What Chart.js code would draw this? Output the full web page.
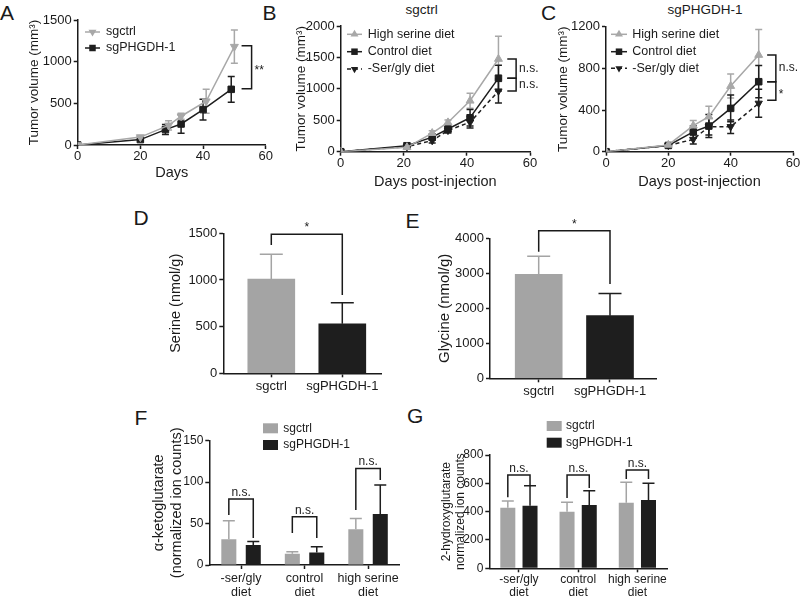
<!DOCTYPE html>
<html lang="en">
<head>
<meta charset="utf-8">
<title>PHGDH tumour figure</title>
<script src="https://cdn.jsdelivr.net/npm/chart.js@4.4.1/dist/chart.umd.min.js"></script>
<style>
  html, body { margin: 0; padding: 0; background: #fff; }
  #figura { position: relative; width: 800px; height: 596px; overflow: hidden;
            font-family: 'Liberation Sans', Arial, sans-serif; color: #1a1a1a; }
  #figura canvas { position: absolute; }
  .txt { position: absolute; line-height: 1; white-space: nowrap; }
  .letra { font-size: 21px; }
  .titulo { font-size: 13.5px; transform: translateX(-50%); }
</style>
</head>
<body>
<div id="figura">
  <div class="txt letra" style="left:0px;top:2px">A</div>
  <div class="txt letra" style="left:262.5px;top:2px">B</div>
  <div class="txt letra" style="left:541px;top:2px">C</div>
  <div class="txt letra" style="left:133.5px;top:207px">D</div>
  <div class="txt letra" style="left:405.5px;top:210px">E</div>
  <div class="txt letra" style="left:134.5px;top:407px">F</div>
  <div class="txt letra" style="left:407px;top:405px">G</div>
  <div class="txt titulo" style="left:421.7px;top:2.6px">sgctrl</div>
  <div class="txt titulo" style="left:705px;top:3.3px">sgPHGDH-1</div>
</div>
<script>
// Painel A - volume tumoral (mm3) por dia
const diasA_sgctrl = [0, 20, 29, 33, 41, 50];
const volA_sgctrl = [0, 95, 235, 345, 525, 1180];
const erroA_sgctrl = [0, 15, 55, 35, 145, 200];
const diasA_sgPHGDH = [0, 20, 28, 33, 40, 49];
const volA_sgPHGDH = [0, 65, 185, 252, 425, 668];
const erroA_sgPHGDH = [0, 10, 60, 110, 125, 155];

// Painel B - sgctrl com dietas
const diasB = [0, 21, 29, 34, 41, 50];
const volB_alta = [0, 70, 295, 465, 810, 1475];
const erroB_alta = [0, 20, 40, 40, 120, 360];
const volB_controle = [0, 95, 232, 361, 540, 1170];
const erroB_controle = [0, 20, 50, 40, 130, 205];
const volB_semSerGly = [0, 80, 177, 339, 468, 965];
const erroB_semSerGly = [0, 15, 40, 40, 90, 190];

// Painel C - sgPHGDH-1 com dietas
const diasC = [0, 20, 28, 33, 40, 49];
const volC_alta = [0, 65, 250, 336, 630, 928];
const erroC_alta = [0, 10, 50, 100, 115, 245];
const volC_controle = [0, 60, 190, 246, 416, 672];
const erroC_controle = [0, 10, 60, 110, 128, 155];
const volC_semSerGly = [0, 60, 118, 240, 240, 465];
const erroC_semSerGly = [0, 8, 45, 80, 65, 135];

// Paineis D e E - serina e glicina (nmol/g)
const grupos = ['sgctrl', 'sgPHGDH-1'];
const serina = [1010, 530];
const erroSerina = [265, 225];
const glicina = [2970, 1790];
const erroGlicina = [520, 630];

// Paineis F e G - dietas
const dietas = [['-ser/gly', 'diet'], ['control', 'diet'], ['high serine', 'diet']];
const akg_sgctrl = [31, 13.5, 43];
const erroAkg_sgctrl = [22.5, 2.5, 13];
const akg_sgPHGDH = [24, 15, 61.5];
const erroAkg_sgPHGDH = [4.5, 7, 35];
const hg_sgctrl = [428, 400, 463];
const erroHg_sgctrl = [47, 66, 144];
const hg_sgPHGDH = [442, 447, 482];
const erroHg_sgPHGDH = [141, 101, 118];

// Colchetes de significancia (valores nas unidades dos eixos)
const colchetesA = [{ x1: 52.3, x2: 55.5, y1: 1190, y2: 675, texto: '**' }];
const colchetesB = [
    { x1: 52.8, x2: 55.6, y1: 1475, y2: 1170, texto: 'n.s.' },
    { x1: 52.8, x2: 55.6, y1: 1170, y2: 965, texto: 'n.s.' }
];
const colchetesC = [
    { x1: 51.7, x2: 54.5, y1: 928, y2: 672, texto: 'n.s.' },
    { x1: 51.7, x2: 54.5, y1: 672, y2: 495, texto: '*' }
];
const colchetesD = [{ a: [0, 0], b: [0, 1], topo: 1489, fimA: 1375, fimB: 839, texto: '*' }];
const colchetesE = [{ a: [0, 0], b: [0, 1], topo: 4217, fimA: 3617, fimB: 2694, texto: '*' }];
const colchetesF = [
    { a: [0, 0], b: [1, 0], topo: 79.6, fimA: 60.3, fimB: 32.6, texto: 'n.s.' },
    { a: [0, 1], b: [1, 1], topo: 58.3, fimA: 38.6, fimB: 32.6, texto: 'n.s.' },
    { a: [0, 2], b: [1, 2], topo: 116.6, fimA: 66.3, fimB: 102.5, texto: 'n.s.' }
];
const colchetesG = [
    { a: [0, 0], b: [1, 0], topo: 658, fimA: 501, fimB: 581, texto: 'n.s.' },
    { a: [0, 1], b: [1, 1], topo: 658, fimA: 496, fimB: 567, texto: 'n.s.' },
    { a: [0, 2], b: [1, 2], topo: 694, fimA: 630, fimB: 630, texto: 'n.s.' }
];

const FONTE = "'Liberation Sans', Arial, sans-serif";
const TINTA = '#1a1a1a';
const CINZA = '#a8a8a8';
const CINZA_BARRA = '#a4a4a4';
const PRETO = '#1e1e1e';

Chart.defaults.font.family = FONTE;
Chart.defaults.color = TINTA;
Chart.defaults.animation = false;
Chart.defaults.plugins.legend.display = false;
Chart.defaults.plugins.tooltip.enabled = false;

const TRI_BAIXO = { ponto: 'triangle', rot: 180, raio: 4.6 };
const TRI_CIMA = { ponto: 'triangle', rot: 0, raio: 4.6 };
const QUADRADO = { ponto: 'rect', rot: 0, raio: 4.6 };
const TRACEJADO = { ponto: 'triangle', rot: 180, raio: 4.2, dash: [4, 3] };

// Plugin: barras de erro, colchetes e legendas no estilo GraphPad
const extras = {
    id: 'extras',
    beforeDatasetsDraw(chart) {
        const cfg = chart.config.options.plugins.extras || {};
        const ctx = chart.ctx;
        const ey = chart.scales.y;
        chart.data.datasets.forEach((ds, di) => {
            if (!ds.err) return;
            const meta = chart.getDatasetMeta(di);
            meta.data.forEach((el, i) => {
                const e = ds.err[i];
                if (!e) return;
                const v = meta.controller.getParsed(i).y;
                const cor = Array.isArray(ds.errColor) ? ds.errColor[i] : (ds.errColor || ds.borderColor);
                const yAlto = ey.getPixelForValue(v + e);
                const yBaixo = ey.getPixelForValue(cfg.soParaCima ? v : v - e);
                const meio = cfg.capa / 2;
                ctx.save();
                ctx.strokeStyle = cor;
                ctx.lineWidth = 1.5;
                ctx.beginPath();
                ctx.moveTo(el.x, yBaixo);
                ctx.lineTo(el.x, yAlto);
                ctx.moveTo(el.x - meio, yAlto);
                ctx.lineTo(el.x + meio, yAlto);
                if (!cfg.soParaCima) {
                    ctx.moveTo(el.x - meio, yBaixo);
                    ctx.lineTo(el.x + meio, yBaixo);
                }
                ctx.stroke();
                ctx.restore();
            });
        });
    },
    afterDatasetsDraw(chart) {
        const cfg = chart.config.options.plugins.extras || {};
        const ctx = chart.ctx;
        const ex = chart.scales.x;
        const ey = chart.scales.y;
        ctx.save();
        ctx.strokeStyle = TINTA;
        ctx.fillStyle = TINTA;
        ctx.lineWidth = 1.5;
        ctx.font = '12px ' + FONTE;
        (cfg.colchetes || []).forEach(c => {
            if (c.x1 !== undefined) {
                // colchete vertical a direita das curvas
                const x1 = ex.getPixelForValue(c.x1), x2 = ex.getPixelForValue(c.x2);
                const y1 = ey.getPixelForValue(c.y1), y2 = ey.getPixelForValue(c.y2);
                ctx.beginPath();
                ctx.moveTo(x1, y1); ctx.lineTo(x2, y1); ctx.lineTo(x2, y2); ctx.lineTo(x1, y2);
                ctx.stroke();
                ctx.textAlign = 'left';
                ctx.textBaseline = 'alphabetic';
                ctx.fillText(c.texto, x2 + 3, (y1 + y2) / 2 + (c.texto.includes('*') ? 7 : 3));
            } else {
                const xa = chart.getDatasetMeta(c.a[0]).data[c.a[1]].x;
                const xb = chart.getDatasetMeta(c.b[0]).data[c.b[1]].x;
                const yt = ey.getPixelForValue(c.topo);
                ctx.beginPath();
                ctx.moveTo(xa, ey.getPixelForValue(c.fimA));
                ctx.lineTo(xa, yt);
                ctx.lineTo(xb, yt);
                ctx.lineTo(xb, ey.getPixelForValue(c.fimB));
                ctx.stroke();
                ctx.textAlign = 'center';
                ctx.textBaseline = 'alphabetic';
                ctx.fillText(c.texto, (xa + xb) / 2, yt - 3);
            }
        });

        const leg = cfg.legenda;
        if (leg) {
            ctx.font = leg.fonte + 'px ' + FONTE;
            ctx.textBaseline = 'middle';
            ctx.textAlign = 'left';
            chart.data.datasets.forEach((ds, i) => {
                const y = leg.y[i] - cfg.caixa.y;
                const x = leg.x - cfg.caixa.x;
                if (leg.tipo === 'linha') {
                    ctx.strokeStyle = ds.borderColor;
                    ctx.lineWidth = 1.5;
                    ctx.setLineDash(ds.borderDash || []);
                    ctx.beginPath();
                    ctx.moveTo(x, y);
                    ctx.lineTo(x + leg.comp, y);
                    ctx.stroke();
                    ctx.setLineDash([]);
                    ctx.fillStyle = ds.borderColor;
                    Chart.helpers.drawPoint(ctx, { pointStyle: ds.pointStyle, rotation: ds.pointRotation, radius: ds.pointRadius, borderWidth: 0 }, x + leg.comp / 2, y);
                } else {
                    ctx.fillStyle = ds.backgroundColor;
                    ctx.fillRect(x, y - leg.alt / 2, leg.comp, leg.alt);
                }
                ctx.fillStyle = TINTA;
                ctx.fillText(ds.label, leg.xTexto - cfg.caixa.x, y);
            });
        }
        ctx.restore();
    }
};

function criarCanvas(id, caixa) {
    const c = document.createElement('canvas');
    c.id = id;
    c.width = caixa.w;
    c.height = caixa.h;
    c.style.left = caixa.x + 'px';
    c.style.top = caixa.y + 'px';
    c.style.width = caixa.w + 'px';
    c.style.height = caixa.h + 'px';
    document.getElementById('figura').appendChild(c);
    return c.getContext('2d');
}

// Calcula o padding para que a area do grafico caia na posicao da figura
function folgas(caixa, area, larguraY, alturaX) {
    return {
        left: area.l - caixa.x - larguraY,
        top: area.t - caixa.y,
        right: caixa.x + caixa.w - area.r,
        bottom: caixa.y + caixa.h - area.b - alturaX
    };
}

const gradeEixo = { drawOnChartArea: false, drawTicks: true, tickLength: 4, tickColor: TINTA, tickWidth: 1.5, offset: false };
const bordaEixo = { display: true, color: TINTA, width: 1.5 };

function eixoY(max, passo, titulo, fonteTitulo, largura, fonteTicks) {
    return {
        type: 'linear', min: 0, max: max,
        ticks: { stepSize: passo, padding: 2, color: TINTA, font: { size: fonteTicks }, callback: (v) => String(v) },
        grid: gradeEixo,
        border: bordaEixo,
        title: { display: true, text: titulo, color: TINTA, padding: 0, font: { size: fonteTitulo, lineHeight: 1.2 } },
        afterFit: (escala) => { escala.width = largura; }
    };
}

function eixoXDias(titulo, altura) {
    return {
        type: 'linear', min: 0, max: 60,
        ticks: { stepSize: 20, padding: 0, color: TINTA, font: { size: 13 }, callback: (v) => String(v) },
        grid: gradeEixo,
        border: bordaEixo,
        title: { display: true, text: titulo, color: TINTA, padding: 0, font: { size: 14.5, lineHeight: 1.2 } },
        afterFit: (escala) => { escala.height = altura; }
    };
}

function eixoXGruposLinear(min, max, altura, pad) {
    return {
        type: 'linear', min: min, max: max, bounds: 'data', offset: false,
        afterBuildTicks: (escala) => { escala.ticks = grupos.map((g, i) => ({ value: i + 1 })); },
        ticks: { callback: (v) => grupos[v - 1], padding: pad, color: TINTA, font: { size: 13 }, autoSkip: false, maxRotation: 0 },
        grid: gradeEixo,
        border: bordaEixo,
        afterFit: (escala) => { escala.height = altura; }
    };
}

function eixoXDietas(altura, pad, fonte) {
    return {
        type: 'category', offset: true,
        ticks: { padding: pad, color: TINTA, font: { size: fonte, lineHeight: 1.05 }, autoSkip: false, maxRotation: 0 },
        grid: gradeEixo,
        border: bordaEixo,
        afterFit: (escala) => { escala.height = altura; }
    };
}

function serieLinha(rotulo, dias, valores, erros, cor, estilo) {
    return {
        label: rotulo,
        data: dias.map((d, i) => ({ x: d, y: valores[i] })),
        err: erros,
        borderColor: cor,
        backgroundColor: cor,
        borderWidth: 1.5,
        borderDash: estilo.dash || [],
        pointStyle: estilo.ponto,
        pointRotation: estilo.rot,
        pointRadius: estilo.raio,
        pointBackgroundColor: cor,
        pointBorderColor: cor,
        pointBorderWidth: 1,
        tension: 0
    };
}

// ---------- Painel A ----------
const caixaA = { x: 0, y: 0, w: 278, h: 192 };
const areaA = { l: 77.7, t: 20, r: 265.7, b: 145 };
new Chart(criarCanvas('graficoA', caixaA), {
    type: 'line',
    data: {
        datasets: [
            serieLinha('sgctrl', diasA_sgctrl, volA_sgctrl, erroA_sgctrl, CINZA, TRI_BAIXO),
            serieLinha('sgPHGDH-1', diasA_sgPHGDH, volA_sgPHGDH, erroA_sgPHGDH, PRETO, QUADRADO)
        ]
    },
    options: {
        responsive: false,
        layout: { padding: folgas(caixaA, areaA, 51.5, 36.7) },
        scales: {
            x: eixoXDias('Days', 36.7),
            y: eixoY(1500, 500, 'Tumor volume (mm³)', 13.5, 51.5, 13)
        },
        plugins: {
            extras: {
                caixa: caixaA, capa: 7, colchetes: colchetesA,
                legenda: { tipo: 'linha', x: 85, comp: 15, xTexto: 106, y: [32, 48], fonte: 12.5 }
            }
        }
    },
    plugins: [extras]
});

// ---------- Painel B ----------
const caixaB = { x: 275, y: 0, w: 275, h: 200 };
const areaB = { l: 340.7, t: 26, r: 530, b: 151.7 };
new Chart(criarCanvas('graficoB', caixaB), {
    type: 'line',
    data: {
        datasets: [
            serieLinha('High serine diet', diasB, volB_alta, erroB_alta, CINZA, TRI_CIMA),
            serieLinha('Control diet', diasB, volB_controle, erroB_controle, PRETO, QUADRADO),
            serieLinha('-Ser/gly diet', diasB, volB_semSerGly, erroB_semSerGly, PRETO, TRACEJADO)
        ]
    },
    options: {
        responsive: false,
        layout: { padding: folgas(caixaB, areaB, 47.1, 38.7) },
        scales: {
            x: eixoXDias('Days post-injection', 38.7),
            y: eixoY(2000, 500, 'Tumor volume (mm³)', 13.5, 47.1, 13)
        },
        plugins: {
            extras: {
                caixa: caixaB, capa: 7, colchetes: colchetesB,
                legenda: { tipo: 'linha', x: 347, comp: 15, xTexto: 367.7, y: [34.3, 51.7, 69], fonte: 12.5 }
            }
        }
    },
    plugins: [extras]
});

// ---------- Painel C ----------
const caixaC = { x: 548, y: 0, w: 262, h: 200 };
const areaC = { l: 606, t: 26.7, r: 793, b: 151.7 };
new Chart(criarCanvas('graficoC', caixaC), {
    type: 'line',
    data: {
        datasets: [
            serieLinha('High serine diet', diasC, volC_alta, erroC_alta, CINZA, TRI_CIMA),
            serieLinha('Control diet', diasC, volC_controle, erroC_controle, PRETO, QUADRADO),
            serieLinha('-Ser/gly diet', diasC, volC_semSerGly, erroC_semSerGly, PRETO, TRACEJADO)
        ]
    },
    options: {
        responsive: false,
        layout: { padding: folgas(caixaC, areaC, 50.8, 38.7) },
        scales: {
            x: eixoXDias('Days post-injection', 38.7),
            y: eixoY(1200, 400, 'Tumor volume (mm³)', 13.5, 50.8, 13)
        },
        plugins: {
            extras: {
                caixa: caixaC, capa: 7, colchetes: colchetesC,
                legenda: { tipo: 'linha', x: 611, comp: 16, xTexto: 632.3, y: [34.3, 51.7, 68.3], fonte: 12.5 }
            }
        }
    },
    plugins: [extras]
});

// ---------- Painel D ----------
const caixaD = { x: 120, y: 212, w: 280, h: 188 };
const areaD = { l: 223.3, t: 233.3, r: 381.7, b: 373.3 };
new Chart(criarCanvas('graficoD', caixaD), {
    type: 'bar',
    data: {
        datasets: [{
            label: 'Serine',
            data: serina.map((v, i) => ({ x: i + 1, y: v })),
            backgroundColor: [CINZA_BARRA, PRETO],
            err: erroSerina,
            errColor: [CINZA_BARRA, PRETO],
            barThickness: 47,
            borderWidth: 0
        }]
    },
    options: {
        responsive: false,
        layout: { padding: folgas(caixaD, areaD, 56.3, 22) },
        scales: {
            x: eixoXGruposLinear(0.324, 2.555, 22, 1.6),
            y: eixoY(1500, 500, 'Serine (nmol/g)', 14.5, 56.3, 13)
        },
        plugins: { extras: { caixa: caixaD, capa: 23, soParaCima: true, colchetes: colchetesD } }
    },
    plugins: [extras]
});

// ---------- Painel E ----------
const caixaE = { x: 400, y: 210, w: 270, h: 195 };
const areaE = { l: 490, t: 238.3, r: 656.7, b: 378.3 };
new Chart(criarCanvas('graficoE', caixaE), {
    type: 'bar',
    data: {
        datasets: [{
            label: 'Glycine',
            data: glicina.map((v, i) => ({ x: i + 1, y: v })),
            backgroundColor: [CINZA_BARRA, PRETO],
            err: erroGlicina,
            errColor: [CINZA_BARRA, PRETO],
            barThickness: 47,
            borderWidth: 0
        }]
    },
    options: {
        responsive: false,
        layout: { padding: folgas(caixaE, areaE, 54, 22) },
        scales: {
            x: eixoXGruposLinear(0.317, 2.655, 22, 1),
            y: eixoY(4000, 1000, 'Glycine (nmol/g)', 15, 54, 13)
        },
        plugins: { extras: { caixa: caixaE, capa: 23, soParaCima: true, colchetes: colchetesE } }
    },
    plugins: [extras]
});

// ---------- Painel F ----------
const caixaF = { x: 120, y: 405, w: 290, h: 191 };
const areaF = { l: 209.3, t: 440.7, r: 399.8, b: 565 };
new Chart(criarCanvas('graficoF', caixaF), {
    type: 'bar',
    data: {
        labels: dietas,
        datasets: [
            { label: 'sgctrl', data: akg_sgctrl, err: erroAkg_sgctrl, backgroundColor: CINZA_BARRA, errColor: CINZA_BARRA, borderWidth: 0, categoryPercentage: 0.77, barPercentage: 0.615 },
            { label: 'sgPHGDH-1', data: akg_sgPHGDH, err: erroAkg_sgPHGDH, backgroundColor: PRETO, errColor: PRETO, borderWidth: 0, categoryPercentage: 0.77, barPercentage: 0.615 }
        ]
    },
    options: {
        responsive: false,
        layout: { padding: folgas(caixaF, areaF, 58.7, 31) },
        scales: {
            x: eixoXDietas(31, 3.4, 12.5),
            y: eixoY(150, 50, ['α-ketoglutarate', '(normalized ion counts)'], 14.5, 58.7, 12)
        },
        plugins: {
            extras: {
                caixa: caixaF, capa: 12, soParaCima: true, colchetes: colchetesF,
                legenda: { tipo: 'caixa', x: 263, comp: 15, alt: 10, xTexto: 283.3, y: [428.3, 445], fonte: 12 }
            }
        }
    },
    plugins: [extras]
});

// ---------- Painel G ----------
const caixaG = { x: 405, y: 405, w: 275, h: 191 };
const areaG = { l: 489.3, t: 455, r: 667, b: 568.3 };
new Chart(criarCanvas('graficoG', caixaG), {
    type: 'bar',
    data: {
        labels: dietas,
        datasets: [
            { label: 'sgctrl', data: hg_sgctrl, err: erroHg_sgctrl, backgroundColor: CINZA_BARRA, errColor: CINZA_BARRA, borderWidth: 0, categoryPercentage: 0.75, barPercentage: 0.676 },
            { label: 'sgPHGDH-1', data: hg_sgPHGDH, err: erroHg_sgPHGDH, backgroundColor: PRETO, errColor: PRETO, borderWidth: 0, categoryPercentage: 0.75, barPercentage: 0.676 }
        ]
    },
    options: {
        responsive: false,
        layout: { padding: folgas(caixaG, areaG, 49.8, 27.7) },
        scales: {
            x: eixoXDietas(27.7, 1.4, 12),
            y: eixoY(800, 200, ['2-hydroxyglutarate', 'normalized ion counts'], 12, 49.8, 12)
        },
        plugins: {
            extras: {
                caixa: caixaG, capa: 12, soParaCima: true, colchetes: colchetesG,
                legenda: { tipo: 'caixa', x: 546.7, comp: 15, alt: 10, xTexto: 566, y: [426, 442.7], fonte: 12 }
            }
        }
    },
    plugins: [extras]
});
</script>
</body>
</html>
